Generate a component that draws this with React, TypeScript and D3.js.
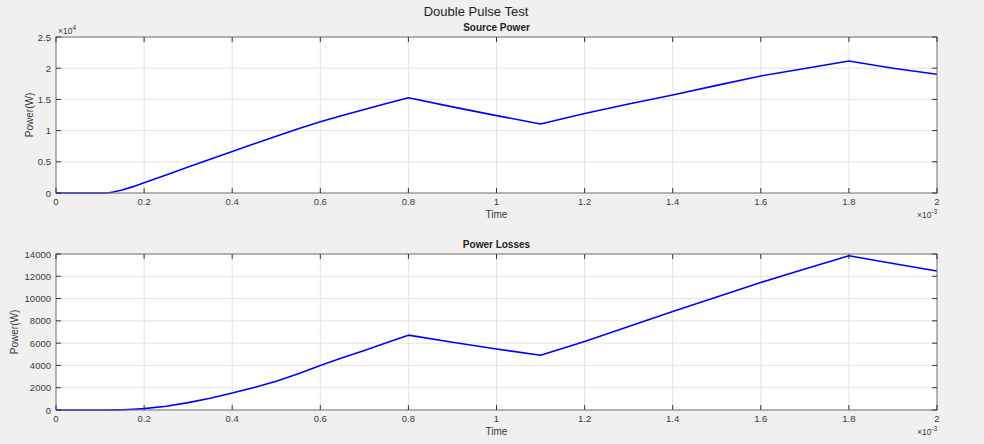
import React from "react";
import * as d3 from "d3";

const W = 984;
const H = 444;

const timeMs = [0, 0.1, 0.11, 0.12, 0.13, 0.15, 0.175, 0.2, 0.25, 0.3, 0.35, 0.4, 0.45, 0.5, 0.55, 0.6, 0.65, 0.7, 0.75, 0.8, 0.9, 1.0, 1.1, 1.2, 1.3, 1.4, 1.5, 1.6, 1.7, 1.8, 1.9, 2.0];
const sourcePower = [0, 0, 0, 50, 150, 480, 1020, 1650, 2900, 4150, 5400, 6650, 7880, 9100, 10280, 11430, 12420, 13380, 14330, 15270, 13800, 12400, 11060, 12750, 14250, 15700, 17250, 18750, 19950, 21150, 19980, 19020];
const powerLosses = [0, 0, 0, 5, 10, 25, 65, 120, 330, 660, 1060, 1530, 2020, 2580, 3250, 4000, 4680, 5350, 6030, 6717, 6080, 5470, 4920, 6140, 7500, 8840, 10150, 11450, 12650, 13850, 13150, 12470];

const xTicks = [0, 0.2, 0.4, 0.6, 0.8, 1, 1.2, 1.4, 1.6, 1.8, 2];
const topYTicks = [0, 5000, 10000, 15000, 20000, 25000];
const topYLabels = ["0", "0.5", "1", "1.5", "2", "2.5"];
const botYTicks = [0, 2000, 4000, 6000, 8000, 10000, 12000, 14000];
const botYLabels = ["0", "2000", "4000", "6000", "8000", "10000", "12000", "14000"];

const FONT = "'Liberation Sans', Arial, Helvetica, sans-serif";
const TXT = "#3a3a3a";

function Panel({ top, bottom, values, yMax, yTicks, yLabels, title, yExp, yLabelX }: any) {
  const left = 56;
  const right = 937;
  const x = d3.scaleLinear().domain([0, 2]).range([left, right]);
  const y = d3.scaleLinear().domain([0, yMax]).range([bottom, top]);
  const line = d3
    .line<number>()
    .x((_, i) => x(timeMs[i]))
    .y((d) => y(d));
  const tl = 5;
  return (
    <g>
      <rect x={left} y={top} width={right - left} height={bottom - top} fill="#fff" />
      {xTicks.map((t) => (
        <line key={"gx" + t} x1={x(t)} x2={x(t)} y1={top} y2={bottom} stroke="#e3e3e3" strokeWidth={1} />
      ))}
      {yTicks.map((t: number) => (
        <line key={"gy" + t} x1={left} x2={right} y1={y(t)} y2={y(t)} stroke="#e3e3e3" strokeWidth={1} />
      ))}
      <path d={line(values) as string} fill="none" stroke="#0000ff" strokeWidth={1.6} strokeLinejoin="round" />
      <rect x={left} y={top} width={right - left} height={bottom - top} fill="none" stroke="#777" strokeWidth={1} />
      {xTicks.map((t) => (
        <g key={"tx" + t}>
          <line x1={x(t)} x2={x(t)} y1={bottom} y2={bottom - tl} stroke="#333" />
          <line x1={x(t)} x2={x(t)} y1={top} y2={top + tl} stroke="#333" />
          <text x={x(t)} y={bottom + 12} fontSize={9.5} fill={TXT} textAnchor="middle" fontFamily={FONT}>
            {String(t)}
          </text>
        </g>
      ))}
      {yTicks.map((t: number, i: number) => (
        <g key={"ty" + t}>
          <line x1={left} x2={left + tl} y1={y(t)} y2={y(t)} stroke="#333" />
          <line x1={right} x2={right - tl} y1={y(t)} y2={y(t)} stroke="#333" />
          <text x={left - 5} y={y(t) + 3.5} fontSize={9.5} fill={TXT} textAnchor="end" fontFamily={FONT}>
            {yLabels[i]}
          </text>
        </g>
      ))}
      <text x={(left + right) / 2} y={top - 6} fontSize={10} fontWeight="bold" fill="#222" textAnchor="middle" fontFamily={FONT}>
        {title}
      </text>
      <text x={(left + right) / 2} y={bottom + 25} fontSize={10} fill={TXT} textAnchor="middle" fontFamily={FONT}>
        Time
      </text>
      <text
        transform={`translate(${yLabelX},${(top + bottom) / 2}) rotate(-90)`}
        fontSize={10}
        fill={TXT}
        textAnchor="middle"
        fontFamily={FONT}
      >
        Power(W)
      </text>
      {yExp && (
        <text x={left + 2} y={top - 3} fontSize={8.5} fill={TXT} fontFamily={FONT}>
          ×10
          <tspan fontSize={6.5} dy={-4}>4</tspan>
        </text>
      )}
      <text x={right - 20} y={bottom + 25} fontSize={8.5} fill={TXT} fontFamily={FONT}>
        ×10
        <tspan fontSize={6.5} dy={-4}>-3</tspan>
      </text>
    </g>
  );
}

export default function App() {
  return (
    <svg width={W} height={H} style={{ position: "absolute", left: 0, top: 0, display: "block" }}>
      <rect x={0} y={0} width={W} height={H} fill="#f0f0f0" />
      <text x={476} y={16} fontSize={13} fill="#222" textAnchor="middle" fontFamily={FONT}>
        Double Pulse Test
      </text>
      <Panel top={37} bottom={193} values={sourcePower} yMax={25000} yTicks={topYTicks} yLabels={topYLabels} title="Source Power" yExp={true} yLabelX={33} />
      <Panel top={254} bottom={410} values={powerLosses} yMax={14000} yTicks={botYTicks} yLabels={botYLabels} title="Power Losses" yExp={false} yLabelX={18} />
    </svg>
  );
}
